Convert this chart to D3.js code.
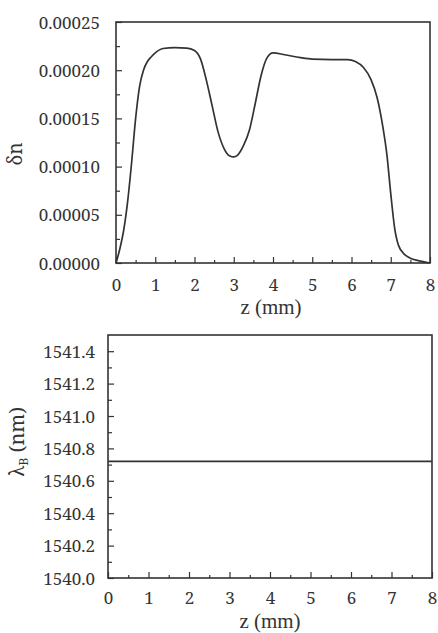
<!DOCTYPE html>
<html>
<head>
<meta charset="utf-8">
<script src="https://cdn.jsdelivr.net/npm/d3@7"></script>
<style>
  body { margin: 0; background: #fff; }
</style>
</head>
<body>
<div id="chart"></div>
<script>
// top panel: index modulation along the grating
var zTop = [0, 0.1, 0.2, 0.3, 0.4, 0.5, 0.6, 0.7, 0.8, 0.9, 1.0, 1.2, 1.5, 1.8, 2.0, 2.15, 2.3, 2.45, 2.6, 2.75, 2.9, 3.0, 3.1, 3.25, 3.4, 3.55, 3.7, 3.85, 4.0, 4.3, 4.7, 5.0, 5.5, 5.9, 6.1, 6.3, 6.5, 6.65, 6.8, 6.9, 7.0, 7.1, 7.2, 7.35, 7.5, 7.7, 8.0];
var deltaN = [0, 1.5e-5, 3.5e-5, 6.5e-5, 10.5e-5, 15e-5, 18.3e-5, 20e-5, 20.9e-5, 21.4e-5, 21.8e-5, 22.25e-5, 22.35e-5, 22.3e-5, 22.05e-5, 21.2e-5, 19e-5, 16.3e-5, 13.6e-5, 11.9e-5, 11.1e-5, 11e-5, 11.2e-5, 12.2e-5, 13.8e-5, 16.6e-5, 19.5e-5, 21.3e-5, 21.8e-5, 21.6e-5, 21.3e-5, 21.15e-5, 21.1e-5, 21.1e-5, 20.9e-5, 20.3e-5, 19e-5, 17.2e-5, 14.1e-5, 11.3e-5, 7.2e-5, 3.6e-5, 1.8e-5, 0.9e-5, 0.5e-5, 0.25e-5, 0];
var topYTicks = [0, 0.00005, 0.0001, 0.00015, 0.0002, 0.00025];
var topYLabels = ["0.00000", "0.00005", "0.00010", "0.00015", "0.00020", "0.00025"];

// bottom panel: Bragg wavelength along the grating
var zBottom = [0, 8];
var lambdaB = [1540.72, 1540.72];
var botYTicks = [1540.0, 1540.2, 1540.4, 1540.6, 1540.8, 1541.0, 1541.2, 1541.4];

var zTicks = [0, 1, 2, 3, 4, 5, 6, 7, 8];
var zMinor = [0.5, 1.5, 2.5, 3.5, 4.5, 5.5, 6.5, 7.5];

var width = 438, height = 633;
var ink = "#333";
var serif = "'Noto Serif', 'Liberation Serif', serif";
var labelSerif = "'Liberation Serif', 'Noto Serif', serif";

var svg = d3.select("#chart")
  .append("svg")
  .attr("width", width)
  .attr("height", height);

function drawPanel(opts) {
  var g = svg.append("g");
  var x = d3.scaleLinear().domain([0, 8]).range([opts.left, opts.right]);
  var y = d3.scaleLinear().domain(opts.yDomain).range([opts.bottom, opts.top]);

  // minor ticks (inside)
  g.append("g")
    .attr("transform", "translate(0," + opts.bottom + ")")
    .call(d3.axisBottom(x).tickValues(zMinor).tickSize(-3).tickFormat(""));
  g.append("g")
    .attr("transform", "translate(" + opts.left + ",0)")
    .call(d3.axisLeft(y).tickValues(opts.yMinor).tickSize(-4).tickFormat(""));

  // major ticks with labels
  var xAxis = g.append("g")
    .attr("transform", "translate(0," + opts.bottom + ")")
    .call(d3.axisBottom(x).tickValues(zTicks).tickSize(-6).tickPadding(opts.xPad).tickFormat(d3.format("d")));
  var yAxis = g.append("g")
    .attr("transform", "translate(" + opts.left + ",0)")
    .call(d3.axisLeft(y).tickValues(opts.yTicks).tickSize(-6).tickPadding(opts.yPad).tickFormat(opts.yFormat));

  g.selectAll(".domain").remove();
  g.selectAll(".tick line").attr("stroke", ink).attr("stroke-width", 1.2);
  xAxis.attr("font-family", null);
  yAxis.attr("font-family", null);
  xAxis.selectAll("text").style("font-family", serif).style("font-size", "17px").attr("fill", ink).attr("dy", "0");
  yAxis.selectAll("text").style("font-family", serif).style("font-size", "17px").attr("fill", ink).attr("dy", "0.36em");

  // frame
  g.append("rect")
    .attr("x", opts.left)
    .attr("y", opts.top)
    .attr("width", opts.right - opts.left)
    .attr("height", opts.bottom - opts.top)
    .attr("fill", "none")
    .attr("stroke", ink)
    .attr("stroke-width", 1.6);

  // data line
  var line = d3.line()
    .x(function (d) { return x(d[0]); })
    .y(function (d) { return y(d[1]); })
    .curve(d3.curveMonotoneX);

  g.append("path")
    .datum(d3.zip(opts.xs, opts.ys))
    .attr("d", line)
    .attr("fill", "none")
    .attr("stroke", ink)
    .attr("stroke-width", 1.7);

  // x label
  g.append("text")
    .attr("x", opts.xLabelX)
    .attr("y", opts.xLabelY)
    .attr("text-anchor", "middle")
    .attr("fill", ink)
    .style("font-family", labelSerif)
    .style("font-size", "21px")
    .text("z (mm)");

  return g;
}

// top panel
var gTop = drawPanel({
  left: 116, right: 430, top: 22, bottom: 263,
  yDomain: [0, 0.00025],
  yTicks: topYTicks,
  yMinor: [0.000025, 0.000075, 0.000125, 0.000175, 0.000225],
  yFormat: function (d, i) { return topYLabels[i]; },
  yPad: 16,
  xPad: 28,
  xs: zTop, ys: deltaN,
  xLabelX: 271, xLabelY: 314
});

gTop.append("text")
  .attr("transform", "translate(22,154) rotate(-90)")
  .attr("text-anchor", "middle")
  .attr("fill", ink)
  .style("font-family", serif)
  .style("font-size", "19px")
  .text("δn");

// bottom panel
var gBot = drawPanel({
  left: 108, right: 432, top: 335, bottom: 578,
  yDomain: [1540.0, 1541.5],
  yTicks: botYTicks,
  yMinor: [1540.1, 1540.3, 1540.5, 1540.7, 1540.9, 1541.1, 1541.3],
  yFormat: d3.format(".1f"),
  yPad: 13,
  xPad: 26,
  xs: zBottom, ys: lambdaB,
  xLabelX: 270, xLabelY: 628
});

var yl = gBot.append("text")
  .attr("transform", "translate(24,442) rotate(-90)")
  .attr("text-anchor", "middle")
  .attr("fill", ink)
  .style("font-family", serif)
  .style("font-size", "20px");
yl.append("tspan").text("λ");
yl.append("tspan").attr("dy", "4").style("font-size", "12px").text("B");
yl.append("tspan").attr("dy", "-4").text(" (nm)");
</script>
</body>
</html>
